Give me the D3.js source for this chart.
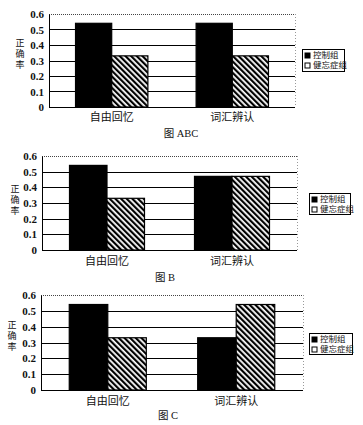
<!DOCTYPE html>
<html>
<head>
<meta charset="utf-8">
<script src="https://cdn.jsdelivr.net/npm/d3@7"></script>
<style>
body { margin: 0; background: #fff; }
text { font-family: "Liberation Serif", "Noto Sans CJK SC", serif; fill: #111; }
</style>
</head>
<body>
<div id="canvas"></div>
<script>
// data
const categories = ["自由回忆", "词汇辨认"]
const seriesNames = ["控制组", "健忘症组"]
const ticks = [0, 0.1, 0.2, 0.3, 0.4, 0.5, 0.6]
const titles = ["图 ABC", "图 B", "图 C"]
const controlA = [0.54, 0.54]
const amnesiaA = [0.33, 0.33]
const controlB = [0.54, 0.47]
const amnesiaB = [0.33, 0.47]
const controlC = [0.54, 0.33]
const amnesiaC = [0.33, 0.54]

const svg = d3.select("#canvas").append("svg").attr("width", 363).attr("height", 425)

// hatch pattern
const pat = svg.append("defs").append("pattern")
  .attr("id", "hatch").attr("patternUnits", "userSpaceOnUse")
  .attr("width", 4).attr("height", 4).attr("patternTransform", "rotate(-45)")
pat.append("rect").attr("width", 4).attr("height", 4).attr("fill", "#fff")
pat.append("rect").attr("width", 2.2).attr("height", 4).attr("fill", "#000")

// layout for each panel
const panels = [
  { left: 49, right: 295, top: 14, bottom: 107, control: controlA, amnesia: amnesiaA, title: titles[0],
    titleX: 181, titleY: 137, catY: 121, ylabX: 20, ylabY: 44, leg: [302, 49, 42, 22] },
  { left: 42, right: 297, top: 156, bottom: 250, control: controlB, amnesia: amnesiaB, title: titles[1],
    titleX: 165, titleY: 281, catY: 265, ylabX: 15, ylabY: 190, leg: [309, 193, 41, 21] },
  { left: 41, right: 303, top: 295, bottom: 390, control: controlC, amnesia: amnesiaC, title: titles[2],
    titleX: 168, titleY: 419, catY: 405, ylabX: 12, ylabY: 326, leg: [309, 333, 43, 21] }
]

panels.forEach(p => {
  const g = svg.append("g")
  const y = d3.scaleLinear().domain([0, 0.6]).range([p.bottom, p.top])
  const x0 = d3.scaleBand().domain(categories).range([p.left, p.right]).paddingInner(0.4).paddingOuter(0.22)
  const x1 = d3.scaleBand().domain(seriesNames).range([0, x0.bandwidth()])

  // gridlines
  g.selectAll(".grid").data(ticks.slice(1, 6)).enter().append("line")
    .attr("x1", p.left).attr("x2", p.right)
    .attr("y1", d => Math.round(y(d)) + 0.5).attr("y2", d => Math.round(y(d)) + 0.5)
    .attr("stroke", "#000").attr("stroke-width", 1)
  // top and right border (dotted)
  g.append("line").attr("x1", p.left).attr("x2", p.right).attr("y1", Math.round(y(0.6)) + 0.5).attr("y2", Math.round(y(0.6)) + 0.5)
    .attr("stroke", "#444").attr("stroke-dasharray", "1,1")
  g.append("line").attr("x1", p.right + 0.5).attr("x2", p.right + 0.5).attr("y1", p.top).attr("y2", p.bottom)
    .attr("stroke", "#999").attr("stroke-dasharray", "1,2")

  // bars
  const rows = categories.map((c, i) => [
    { cat: c, s: seriesNames[0], v: p.control[i] },
    { cat: c, s: seriesNames[1], v: p.amnesia[i] }
  ]).flat()
  g.selectAll(".bar").data(rows).enter().append("rect")
    .attr("x", d => x0(d.cat) + x1(d.s))
    .attr("y", d => y(d.v))
    .attr("width", x1.bandwidth())
    .attr("height", d => p.bottom - y(d.v))
    .attr("fill", d => d.s === seriesNames[0] ? "#000" : "url(#hatch)")
    .attr("stroke", "#000").attr("stroke-width", 1.2)

  // axes
  const ya = g.append("g").attr("transform", `translate(${p.left},0)`)
    .call(d3.axisLeft(y).tickValues(ticks).tickSize(0).tickPadding(5).tickFormat(d => d === 0 ? "0" : d3.format(".1f")(d)))
  ya.select(".domain").attr("stroke", "#000")
  ya.selectAll("text").attr("font-size", 11).attr("font-family", "Liberation Serif").attr("font-weight", "bold")
  g.append("line").attr("x1", p.left).attr("x2", p.right).attr("y1", p.bottom + 0.5).attr("y2", p.bottom + 0.5).attr("stroke", "#000")

  // category labels
  g.selectAll(".cat").data(categories).enter().append("text")
    .attr("x", d => x0(d) + x0.bandwidth() / 2).attr("y", p.catY)
    .attr("text-anchor", "middle").attr("font-size", 11).attr("font-family", "Noto Sans CJK SC")
    .text(d => d)

  // y label, stacked characters
  g.selectAll(".ylab").data("正确率".split("")).enter().append("text")
    .attr("x", p.ylabX).attr("y", (d, i) => p.ylabY + i * 11)
    .attr("text-anchor", "middle").attr("dominant-baseline", "middle")
    .attr("font-size", 9).attr("font-family", "Noto Sans CJK SC")
    .text(d => d)

  // title
  g.append("text").attr("x", p.titleX).attr("y", p.titleY).attr("text-anchor", "middle")
    .attr("font-size", 10.5).text(p.title)

  // legend
  const [lx, ly, lw, lh] = p.leg
  g.append("rect").attr("x", lx + 0.5).attr("y", ly + 0.5).attr("width", lw).attr("height", lh)
    .attr("fill", "#fff").attr("stroke", "#000")
  seriesNames.forEach((s, i) => {
    g.append("rect").attr("x", lx + 3).attr("y", ly + 4 + i * 10).attr("width", 5).attr("height", 5)
      .attr("fill", i === 0 ? "#000" : "#fff").attr("stroke", "#000")
    g.append("text").attr("x", lx + 11).attr("y", ly + 7 + i * 10).attr("dominant-baseline", "middle")
      .attr("font-size", 8.5).attr("font-family", "Noto Sans CJK SC").text(s)
  })
})
</script>
</body>
</html>
